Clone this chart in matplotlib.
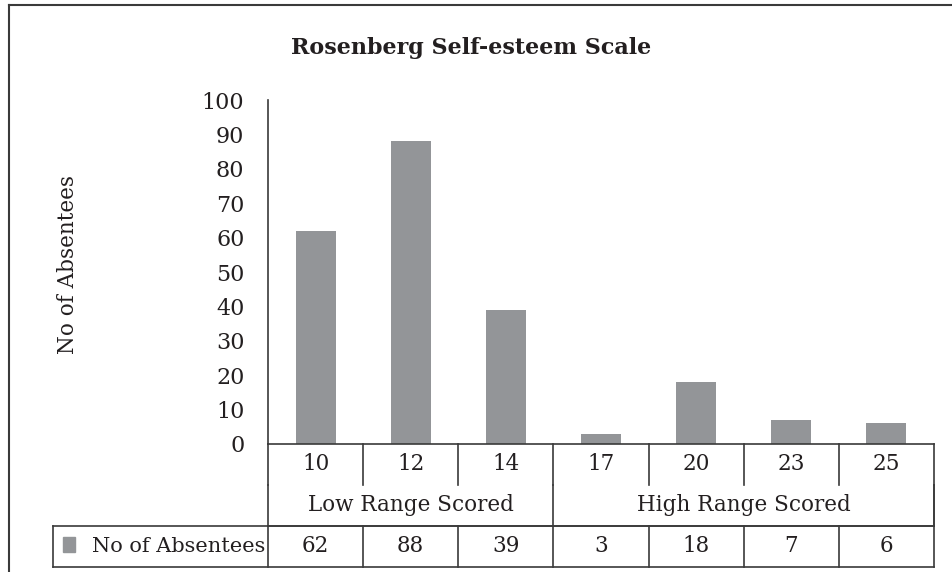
import numpy as np
import matplotlib
matplotlib.use('Agg')
from matplotlib import pyplot as plt
from matplotlib.lines import Line2D
from matplotlib.patches import Rectangle
import matplotlib.transforms as mtransforms

# data
scores = ['10', '12', '14', '17', '20', '23', '25']
absentees = [62, 88, 39, 3, 18, 7, 6]
groups = ['Low Range Scored', 'High Range Scored']
group_size = [3, 4]
series_name = 'No of Absentees'
title = 'Rosenberg Self-esteem Scale'

W, H = 953, 572
bar_col = '#939598'
line_col = '#3a3a3a'
txt_col = '#231f20'

plt.rcParams['font.family'] = ['DejaVu Serif']

fig = plt.figure(figsize=(W / 100, H / 100), dpi=100)

def fx(px):
    return px / W

def fy(py):
    return 1 - py / H

# outer frame of the chart
fig.add_artist(Line2D([fx(9), fx(9)], [fy(5), 0], transform=fig.transFigure, color=line_col, lw=1.5))
fig.add_artist(Line2D([fx(9), 1], [fy(5), fy(5)], transform=fig.transFigure, color=line_col, lw=1.5))

ax_l, ax_r, ax_t, ax_b = 268, 934, 100, 444
ax = fig.add_axes([fx(ax_l), fy(ax_b), fx(ax_r - ax_l), (ax_b - ax_t) / H])

x = np.arange(len(scores))
ax.bar(x, absentees, width=0.42, color=bar_col, zorder=2)
ax.set_xlim(-0.5, len(scores) - 0.5)
ax.set_ylim(0, 100)
ax.set_yticks(np.arange(0, 101, 10))
ax.tick_params(axis='y', length=0, pad=17, labelsize=16, labelcolor=txt_col)
ax.set_xticks([])
for s in ['top', 'right']:
    ax.spines[s].set_visible(False)
ax.spines['left'].set_color(line_col)
ax.spines['bottom'].set_color(line_col)
ax.spines['left'].set_linewidth(1.2)
ax.spines['bottom'].set_linewidth(1.2)

fig.text(fx(471), fy(48), title, ha='center', va='center', fontsize=16, fontweight='bold',
         color=txt_col)
fig.text(fx(68), fy(265), 'No of Absentees', rotation=90, ha='center', va='center',
         fontsize=15.5, color=txt_col)

# table below the axis (x in data, y in axes fraction)
trans = mtransforms.blended_transform_factory(ax.transData, ax.transAxes)
ph = ax_b - ax_t
r1 = -(485 - ax_b) / ph
r2 = -(526 - ax_b) / ph
r3 = -(567 - ax_b) / ph
lo, hi = -0.5, len(scores) - 0.5

def seg(xs, ys):
    ax.add_line(Line2D(xs, ys, transform=trans, color=line_col, lw=1.2, clip_on=False))

# category row
for i in range(len(scores) + 1):
    seg([i - 0.5, i - 0.5], [0, r1])
for i, s in enumerate(scores):
    ax.text(i, (0 + r1) / 2, s, transform=trans, ha='center', va='center', fontsize=15.5, color=txt_col)

# group row
seg([lo, lo], [r1, r2])
seg([hi, hi], [r1, r2])
start = 0
for g, n in zip(groups, group_size):
    seg([start + n - 0.5, start + n - 0.5], [r1, r2])
    ax.text(start + (n - 1) / 2, (r1 + r2) / 2, g, transform=trans, ha='center', va='center',
            fontsize=15.5, color=txt_col)
    start += n
seg([lo, hi], [r2, r2])

# data row
leg_left = ax.transData.inverted().transform((fx(53) * W, 0))[0]
seg([leg_left, hi], [r2, r2])
seg([leg_left, hi], [r3, r3])
seg([leg_left, leg_left], [r2, r3])
for i in range(len(scores) + 1):
    seg([i - 0.5, i - 0.5], [r2, r3])
for i, v in enumerate(absentees):
    ax.text(i, (r2 + r3) / 2, str(v), transform=trans, ha='center', va='center', fontsize=15.5, color=txt_col)

fig.add_artist(Rectangle((fx(63), fy(552)), fx(12), 15 / H, transform=fig.transFigure,
                         color=bar_col))
ax.text(-0.53, (r2 + r3) / 2, series_name, transform=trans, ha='right', va='center',
        fontsize=15, color=txt_col)

fig.savefig('out.png', dpi=100)
